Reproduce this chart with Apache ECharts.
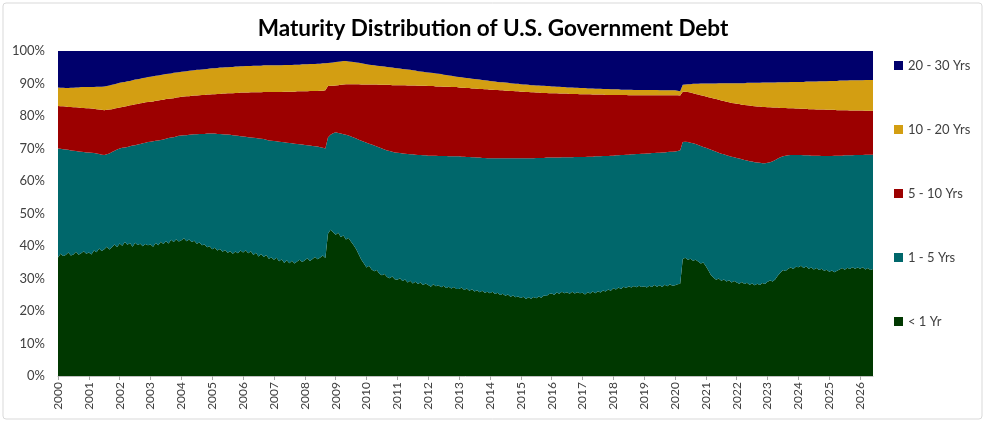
<!DOCTYPE html>
<html>
<head>
<meta charset="utf-8">
<script src="https://cdn.jsdelivr.net/npm/echarts@6/dist/echarts.min.js"></script>
<style>
  html, body { margin: 0; padding: 0; background: #fff; }
  #chart { width: 986px; height: 427px; }
</style>
</head>
<body>
<div id="chart"></div>
<script>
// monthly, Jan 2000 .. Jun 2026 (share of marketable debt, %)
let startYear = 2000, endYear = 2026, endMonth = 6;
let months = [];
for (let y = startYear; y <= endYear; y++) {
    for (let m = 1; m <= 12; m++) {
        if (y === endYear && m > endMonth) break;
        months.push(y + '-' + (m < 10 ? '0' + m : m));
    }
}

let seriesNames = ['< 1 Yr', '1 - 5 Yrs', '5 - 10 Yrs', '10 - 20 Yrs', '20 - 30 Yrs'];
let yTicks = [0, 10, 20, 30, 40, 50, 60, 70, 80, 90, 100];

let under1 = [
    36.5, 37.6, 36.9, 37.2, 38.0, 37.1, 37.4, 38.2, 37.3, 37.8, 38.4, 37.6,
    38.0, 37.4, 38.6, 38.1, 39.2, 38.5, 39.0, 39.8, 38.9, 39.6, 40.5, 39.7,
    40.8, 40.1, 41.2, 40.4, 40.9, 39.8, 41.0, 40.3, 40.7, 39.9, 40.6, 40.2,
    40.5, 39.8, 40.9, 40.2, 41.3, 40.6, 41.5, 40.8, 41.9, 41.2, 42.1, 41.4,
    41.8, 42.4, 41.5, 42.0, 41.2, 41.6, 40.7, 41.1, 40.2, 40.5, 39.6, 39.9,
    39.0, 39.5, 38.6, 39.1, 38.2, 38.8, 37.9, 38.4, 37.6, 38.3, 37.8, 38.6,
    38.0, 38.7, 37.8, 38.4, 37.2, 37.9, 36.8, 37.5, 36.6, 37.2, 36.1, 36.5,
    35.8, 36.4, 35.3, 35.9, 34.8, 35.6, 34.7, 35.5, 34.6, 35.2, 35.8, 35.1,
    35.6, 36.2, 35.4, 36.0, 36.6, 35.9, 36.5, 37.1, 36.3, 43.8, 45.0, 44.2,
    43.5, 44.1, 42.8, 43.2, 42.0, 42.5, 41.3, 40.2, 39.0, 37.4, 35.8, 34.6,
    33.4, 33.9, 32.8, 32.2, 32.6, 31.5, 31.0, 31.4, 30.5, 30.1, 30.6, 29.8,
    29.6, 30.1, 29.2, 29.7, 28.8, 29.3, 28.5, 29.0, 28.3, 28.8, 28.0, 28.5,
    28.0, 27.5, 28.2, 27.6, 27.9, 27.3, 27.8, 27.1, 27.5, 26.9, 27.4, 26.8,
    26.8, 27.2, 26.5, 26.9, 26.2, 26.7, 26.0, 26.4, 25.8, 26.2, 25.6, 25.9,
    25.5, 25.9, 25.2, 25.6, 24.9, 25.3, 24.7, 25.1, 24.4, 24.8, 24.2, 24.5,
    24.0, 24.4, 23.7, 24.2, 23.8, 24.3, 23.9, 24.5, 24.1, 24.8, 24.6, 25.2,
    25.4, 25.0, 25.7, 25.3, 25.9, 25.5, 25.8, 25.3, 25.9, 25.4, 25.8, 25.5,
    25.6, 25.1, 25.8, 25.4, 26.0, 25.5, 26.1, 25.7, 26.3, 26.0, 26.6, 26.2,
    27.0, 26.6, 27.2, 26.8, 27.5, 27.1, 27.6, 27.2, 27.7, 27.3, 27.8, 27.4,
    27.6, 27.2, 27.8, 27.4, 28.0, 27.5, 27.9, 27.4, 28.1, 27.6, 28.2, 27.8,
    27.9, 28.2, 28.4, 36.0, 36.4, 35.8, 36.1, 35.5, 35.8, 35.2, 34.6, 34.9,
    33.8, 32.5, 31.0, 30.2, 29.6, 30.0, 29.3, 29.7, 29.1, 29.5, 28.8, 29.2,
    28.8, 28.4, 28.9, 28.3, 28.7, 28.1, 28.5, 27.9, 28.4, 28.0, 28.6, 28.3,
    29.0, 29.4, 29.1, 29.8, 30.9, 31.8, 32.6, 32.3, 33.0, 33.4, 32.9, 33.6,
    33.5, 33.9, 33.2, 33.7, 33.0, 33.4, 32.8, 33.2, 32.6, 33.0, 32.4, 32.7,
    32.1, 32.5, 31.9, 32.4, 32.8, 33.2, 32.7, 33.3, 32.9, 33.5, 33.0, 33.4,
    33.0, 33.5, 32.8, 33.2, 32.6, 32.9
];
let yrs1to5 = [
    33.5, 32.3, 32.9, 32.5, 31.6, 32.3, 31.9, 31.0, 31.8, 31.2, 30.5, 31.2,
    30.8, 31.3, 30.0, 30.4, 29.1, 29.6, 29.0, 28.4, 29.6, 29.3, 28.8, 30.0,
    29.2, 30.1, 29.1, 30.1, 29.8, 31.1, 30.0, 30.9, 30.7, 31.7, 31.2, 31.8,
    31.6, 32.4, 31.5, 32.3, 31.3, 32.2, 31.5, 32.4, 31.5, 32.3, 31.6, 32.5,
    32.2, 31.7, 32.6, 32.2, 33.1, 32.8, 33.7, 33.4, 34.3, 34.0, 35.0, 34.7,
    35.6, 35.1, 35.9, 35.4, 36.2, 35.5, 36.4, 35.8, 36.5, 35.7, 36.1, 35.2,
    35.7, 34.9, 35.7, 35.0, 36.1, 35.3, 36.3, 35.5, 36.3, 35.5, 36.4, 35.9,
    36.5, 35.8, 36.8, 36.1, 37.1, 36.2, 37.0, 36.1, 36.9, 36.2, 35.5, 36.1,
    35.5, 34.8, 35.5, 34.8, 34.1, 34.7, 33.9, 33.1, 33.7, 29.6, 29.2, 30.5,
    31.5, 30.7, 31.8, 31.2, 32.2, 31.5, 32.4, 33.2, 34.1, 35.3, 36.6, 37.5,
    38.4, 37.6, 38.4, 38.7, 38.0, 38.8, 39.0, 38.3, 38.9, 39.1, 38.4, 39.0,
    39.1, 38.5, 39.3, 38.7, 39.5, 38.9, 39.7, 39.1, 39.7, 39.2, 39.9, 39.4,
    39.8, 40.3, 39.6, 40.2, 39.8, 40.4, 39.9, 40.6, 40.1, 40.7, 40.2, 40.8,
    40.8, 40.3, 41.0, 40.5, 41.2, 40.6, 41.3, 40.8, 41.4, 40.9, 41.5, 41.1,
    41.5, 41.1, 41.8, 41.4, 42.1, 41.7, 42.3, 41.9, 42.6, 42.2, 42.8, 42.5,
    43.0, 42.6, 43.3, 42.8, 43.2, 42.7, 43.2, 42.6, 43.0, 42.3, 42.6, 42.0,
    41.8, 42.2, 41.5, 41.9, 41.4, 41.8, 41.5, 42.0, 41.4, 42.0, 41.6, 41.9,
    41.8, 42.3, 41.7, 42.1, 41.5, 42.1, 41.5, 41.9, 41.4, 41.7, 41.1, 41.6,
    40.8, 41.3, 40.7, 41.2, 40.5, 41.0, 40.5, 41.0, 40.5, 41.0, 40.5, 41.0,
    40.8, 41.3, 40.7, 41.2, 40.6, 41.2, 40.8, 41.4, 40.7, 41.3, 40.8, 41.2,
    41.2, 41.0, 41.1, 36.0, 35.7, 36.2, 35.7, 36.1, 35.6, 35.9, 36.2, 35.6,
    36.4, 37.4, 38.6, 39.1, 39.4, 38.7, 39.1, 38.5, 38.8, 38.2, 38.7, 38.1,
    38.3, 38.5, 37.8, 38.2, 37.6, 38.0, 37.5, 37.9, 37.3, 37.6, 36.9, 37.2,
    36.6, 36.4, 37.0, 36.7, 36.0, 35.5, 35.0, 35.5, 34.9, 34.6, 35.1, 34.4,
    34.5, 34.1, 34.7, 34.2, 34.9, 34.4, 35.0, 34.6, 35.2, 34.7, 35.3, 35.0,
    35.6, 35.2, 35.9, 35.4, 35.0, 34.6, 35.2, 34.6, 35.0, 34.4, 35.0, 34.6,
    35.0, 34.5, 35.3, 34.9, 35.5, 35.2
];
let yrs5to10 = [
    13.1, 13.1, 13.2, 13.2, 13.2, 13.4, 13.4, 13.5, 13.5, 13.5, 13.6, 13.6,
    13.6, 13.6, 13.6, 13.6, 13.7, 13.8, 13.8, 13.7, 13.5, 13.2, 13.0, 12.8,
    12.6, 12.6, 12.6, 12.6, 12.6, 12.5, 12.6, 12.5, 12.5, 12.4, 12.4, 12.3,
    12.3, 12.3, 12.3, 12.3, 12.3, 12.2, 12.2, 12.1, 12.0, 12.0, 12.0, 11.9,
    11.9, 11.9, 12.0, 11.9, 11.9, 11.9, 11.9, 11.9, 12.0, 12.0, 12.0, 12.0,
    12.1, 12.1, 12.3, 12.3, 12.5, 12.6, 12.7, 12.8, 12.9, 13.1, 13.2, 13.4,
    13.5, 13.6, 13.7, 13.9, 14.0, 14.1, 14.2, 14.3, 14.5, 14.7, 14.9, 15.0,
    15.1, 15.2, 15.3, 15.4, 15.6, 15.7, 15.8, 15.9, 16.0, 16.2, 16.3, 16.4,
    16.5, 16.6, 16.8, 16.9, 17.0, 17.1, 17.4, 17.6, 17.9, 15.8, 15.1, 14.6,
    14.4, 14.7, 15.0, 15.3, 15.6, 15.8, 16.1, 16.4, 16.7, 17.1, 17.3, 17.6,
    17.9, 18.2, 18.5, 18.8, 19.1, 19.3, 19.6, 19.9, 20.2, 20.4, 20.5, 20.7,
    20.8, 20.9, 21.0, 21.1, 21.1, 21.2, 21.2, 21.3, 21.3, 21.3, 21.4, 21.4,
    21.4, 21.4, 21.4, 21.3, 21.4, 21.4, 21.3, 21.3, 21.4, 21.3, 21.3, 21.3,
    21.2, 21.2, 21.2, 21.2, 21.2, 21.2, 21.2, 21.2, 21.1, 21.2, 21.1, 21.2,
    21.1, 21.1, 21.0, 21.0, 20.9, 20.9, 20.8, 20.8, 20.7, 20.7, 20.6, 20.6,
    20.5, 20.5, 20.4, 20.4, 20.3, 20.3, 20.1, 20.1, 20.0, 20.0, 19.9, 19.8,
    19.8, 19.8, 19.8, 19.7, 19.6, 19.6, 19.6, 19.5, 19.5, 19.4, 19.4, 19.3,
    19.3, 19.3, 19.2, 19.2, 19.1, 19.0, 19.0, 19.0, 18.9, 18.8, 18.8, 18.7,
    18.7, 18.6, 18.6, 18.5, 18.5, 18.4, 18.3, 18.2, 18.2, 18.1, 18.1, 18.0,
    18.0, 17.9, 17.9, 17.8, 17.8, 17.7, 17.7, 17.6, 17.6, 17.5, 17.4, 17.4,
    17.3, 17.2, 16.8, 15.5, 15.4, 15.4, 15.4, 15.4, 15.4, 15.5, 15.6, 15.7,
    15.8, 15.9, 16.0, 16.1, 16.2, 16.3, 16.4, 16.4, 16.5, 16.5, 16.5, 16.6,
    16.7, 16.8, 16.8, 16.9, 17.0, 17.1, 17.1, 17.2, 17.2, 17.3, 17.3, 17.3,
    17.1, 16.9, 16.5, 16.1, 15.7, 15.2, 14.9, 14.7, 14.5, 14.4, 14.4, 14.3,
    14.3, 14.2, 14.3, 14.3, 14.2, 14.3, 14.3, 14.2, 14.2, 14.3, 14.3, 14.2,
    14.2, 14.2, 14.1, 14.0, 14.0, 14.0, 13.9, 13.9, 13.8, 13.8, 13.7, 13.7,
    13.7, 13.7, 13.5, 13.5, 13.5, 13.5
];
let yrs10to20 = [
    5.7, 5.7, 5.7, 5.7, 5.8, 5.9, 6.0, 6.1, 6.2, 6.4, 6.4, 6.5,
    6.5, 6.6, 6.7, 6.9, 7.0, 7.1, 7.3, 7.3, 7.4, 7.5, 7.5, 7.5,
    7.6, 7.6, 7.6, 7.6, 7.5, 7.6, 7.6, 7.6, 7.6, 7.7, 7.6, 7.7,
    7.7, 7.7, 7.7, 7.7, 7.7, 7.8, 7.7, 7.7, 7.7, 7.8, 7.7, 7.7,
    7.7, 7.7, 7.7, 7.8, 7.8, 7.8, 7.9, 7.8, 7.8, 7.9, 7.9, 8.0,
    8.0, 8.0, 8.0, 8.1, 8.0, 8.1, 8.0, 8.1, 8.1, 8.1, 8.1, 8.1,
    8.1, 8.2, 8.2, 8.1, 8.2, 8.2, 8.2, 8.2, 8.2, 8.2, 8.2, 8.2,
    8.2, 8.2, 8.2, 8.2, 8.2, 8.2, 8.2, 8.2, 8.3, 8.2, 8.2, 8.3,
    8.3, 8.3, 8.3, 8.3, 8.3, 8.4, 8.3, 8.4, 8.3, 7.1, 7.1, 7.2,
    7.2, 7.2, 7.2, 7.2, 7.1, 7.0, 6.9, 6.8, 6.7, 6.6, 6.5, 6.4,
    6.2, 6.1, 6.0, 5.9, 5.8, 5.8, 5.7, 5.6, 5.5, 5.4, 5.4, 5.3,
    5.2, 5.1, 5.0, 4.9, 4.9, 4.8, 4.7, 4.6, 4.5, 4.4, 4.3, 4.2,
    4.2, 4.1, 4.0, 4.0, 3.9, 3.8, 3.7, 3.6, 3.5, 3.5, 3.3, 3.2,
    3.2, 3.2, 3.1, 3.1, 3.0, 3.0, 2.9, 2.9, 2.9, 2.8, 2.8, 2.7,
    2.7, 2.6, 2.6, 2.5, 2.5, 2.5, 2.5, 2.4, 2.4, 2.3, 2.3, 2.3,
    2.3, 2.2, 2.3, 2.2, 2.2, 2.2, 2.2, 2.2, 2.2, 2.2, 2.1, 2.2,
    2.1, 2.1, 2.0, 2.1, 2.0, 2.0, 1.9, 2.0, 2.0, 1.9, 1.9, 1.9,
    1.9, 1.9, 1.8, 1.8, 1.9, 1.8, 1.8, 1.8, 1.7, 1.8, 1.8, 1.7,
    1.7, 1.7, 1.7, 1.6, 1.6, 1.6, 1.7, 1.7, 1.6, 1.6, 1.6, 1.6,
    1.6, 1.6, 1.6, 1.6, 1.6, 1.6, 1.5, 1.5, 1.5, 1.5, 1.5, 1.5,
    1.5, 1.4, 1.3, 2.1, 2.2, 2.4, 2.6, 2.9, 3.1, 3.3, 3.6, 3.8,
    4.0, 4.2, 4.4, 4.6, 4.8, 5.1, 5.3, 5.5, 5.7, 5.9, 6.1, 6.2,
    6.3, 6.4, 6.6, 6.7, 6.9, 7.0, 7.1, 7.2, 7.3, 7.3, 7.5, 7.5,
    7.6, 7.6, 7.7, 7.7, 7.8, 7.9, 7.9, 7.9, 8.0, 8.1, 8.1, 8.2,
    8.2, 8.3, 8.3, 8.4, 8.5, 8.5, 8.5, 8.6, 8.7, 8.7, 8.7, 8.8,
    8.9, 8.9, 8.9, 9.0, 9.1, 9.1, 9.1, 9.1, 9.3, 9.3, 9.3, 9.3,
    9.3, 9.3, 9.5, 9.5, 9.5, 9.5
];
let yrs20to30 = [
    11.2, 11.3, 11.3, 11.4, 11.4, 11.3, 11.3, 11.2, 11.2, 11.1, 11.1, 11.1,
    11.1, 11.1, 11.1, 11.0, 11.0, 11.0, 10.9, 10.8, 10.6, 10.4, 10.2, 10.0,
    9.8, 9.6, 9.5, 9.3, 9.2, 9.0, 8.8, 8.7, 8.5, 8.3, 8.2, 8.0,
    7.9, 7.8, 7.6, 7.5, 7.4, 7.2, 7.1, 7.0, 6.9, 6.7, 6.6, 6.5,
    6.4, 6.3, 6.2, 6.1, 6.0, 5.9, 5.8, 5.8, 5.7, 5.6, 5.5, 5.4,
    5.3, 5.3, 5.2, 5.1, 5.1, 5.0, 5.0, 4.9, 4.9, 4.8, 4.8, 4.7,
    4.7, 4.6, 4.6, 4.6, 4.5, 4.5, 4.5, 4.5, 4.4, 4.4, 4.4, 4.4,
    4.4, 4.4, 4.4, 4.4, 4.3, 4.3, 4.3, 4.3, 4.2, 4.2, 4.2, 4.1,
    4.1, 4.1, 4.0, 4.0, 4.0, 3.9, 3.9, 3.8, 3.8, 3.7, 3.6, 3.5,
    3.4, 3.3, 3.2, 3.1, 3.1, 3.2, 3.3, 3.4, 3.5, 3.6, 3.8, 3.9,
    4.1, 4.2, 4.3, 4.4, 4.5, 4.6, 4.7, 4.8, 4.9, 5.0, 5.1, 5.2,
    5.3, 5.4, 5.5, 5.6, 5.7, 5.8, 5.9, 6.0, 6.2, 6.3, 6.4, 6.5,
    6.6, 6.7, 6.8, 6.9, 7.0, 7.1, 7.3, 7.4, 7.5, 7.6, 7.8, 7.9,
    8.0, 8.1, 8.2, 8.3, 8.4, 8.5, 8.6, 8.7, 8.8, 8.9, 9.0, 9.1,
    9.2, 9.3, 9.4, 9.5, 9.6, 9.6, 9.7, 9.8, 9.9, 10.0, 10.1, 10.1,
    10.2, 10.3, 10.3, 10.4, 10.5, 10.5, 10.6, 10.6, 10.7, 10.7, 10.8, 10.8,
    10.9, 10.9, 11.0, 11.0, 11.1, 11.1, 11.2, 11.2, 11.2, 11.3, 11.3, 11.4,
    11.4, 11.4, 11.5, 11.5, 11.5, 11.6, 11.6, 11.6, 11.7, 11.7, 11.7, 11.8,
    11.8, 11.8, 11.8, 11.9, 11.9, 11.9, 11.9, 11.9, 12.0, 12.0, 12.0, 12.0,
    12.0, 12.0, 12.0, 12.0, 12.0, 12.0, 12.1, 12.1, 12.1, 12.1, 12.1, 12.1,
    12.1, 12.2, 12.4, 10.4, 10.3, 10.2, 10.2, 10.1, 10.1, 10.1, 10.0, 10.0,
    10.0, 10.0, 10.0, 10.0, 10.0, 9.9, 9.9, 9.9, 9.9, 9.9, 9.9, 9.9,
    9.9, 9.9, 9.9, 9.9, 9.8, 9.8, 9.8, 9.8, 9.8, 9.8, 9.7, 9.7,
    9.7, 9.7, 9.7, 9.7, 9.6, 9.6, 9.6, 9.6, 9.6, 9.5, 9.5, 9.5,
    9.5, 9.5, 9.5, 9.4, 9.4, 9.4, 9.4, 9.4, 9.3, 9.3, 9.3, 9.3,
    9.2, 9.2, 9.2, 9.2, 9.1, 9.1, 9.1, 9.1, 9.0, 9.0, 9.0, 9.0,
    9.0, 9.0, 8.9, 8.9, 8.9, 8.9
];

let seriesData = [under1, yrs1to5, yrs5to10, yrs10to20, yrs20to30];
let colors = ['#003800', '#00676B', '#9C0000', '#D39E12', '#00006C'];

let myChart = echarts.init(document.getElementById('chart'));

let option = {
    animation: false,
    color: colors,
    textStyle: { fontFamily: 'Lato' },
    title: {
        text: 'Maturity Distribution of U.S. Government Debt',
        left: 'center',
        top: 12,
        textStyle: { fontSize: 22.5, fontWeight: 'bold', color: '#000', fontFamily: 'Lato' }
    },
    graphic: [{
        type: 'rect',
        shape: { x: 3, y: 3, width: 979, height: 416, r: 3 },
        style: { fill: 'none', stroke: '#d9d9d9', lineWidth: 1 },
        silent: true
    }],
    legend: {
        orient: 'vertical',
        left: 889,
        top: 54,
        itemWidth: 9,
        itemHeight: 9,
        itemGap: 51,
        icon: 'rect',
        data: seriesNames.slice().reverse(),
        textStyle: { fontSize: 13, color: '#404040' }
    },
    grid: { left: 58, right: 113, top: 51, bottom: 51 },
    xAxis: {
        type: 'category',
        data: months,
        boundaryGap: false,
        axisLine: { lineStyle: { color: '#c0c0c0' } },
        axisTick: {
            length: 4,
            lineStyle: { color: '#a6a6a6' },
            interval: (i) => i % 12 === 0
        },
        axisLabel: {
            rotate: 90,
            fontSize: 12,
            color: '#404040',
            margin: 6,
            interval: (i) => i % 12 === 0,
            formatter: (v) => v.slice(0, 4)
        }
    },
    yAxis: {
        type: 'value',
        min: yTicks[0],
        max: yTicks[yTicks.length - 1],
        interval: 10,
        splitLine: { show: false },
        axisLine: { show: false },
        axisTick: { show: false },
        axisLabel: { formatter: '{value}%', fontSize: 13, color: '#404040', margin: 13 }
    },
    series: seriesNames.map((name, k) => ({
        name: name,
        type: 'line',
        stack: 'total',
        data: seriesData[k],
        showSymbol: false,
        symbol: 'none',
        lineStyle: { width: 0 },
        areaStyle: { color: colors[k], opacity: 1 },
        emphasis: { disabled: true }
    }))
};

myChart.setOption(option);
</script>
</body>
</html>
